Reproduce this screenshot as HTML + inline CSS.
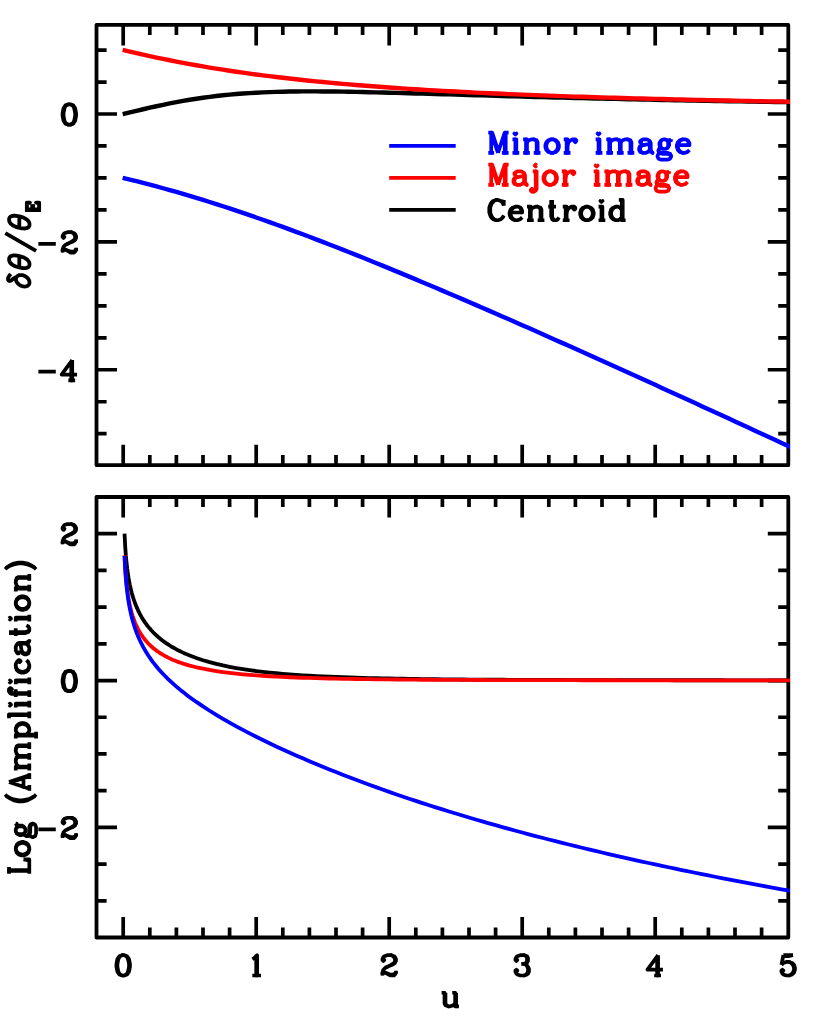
<!DOCTYPE html>
<html><head><meta charset="utf-8"><title>Microlensing image shifts</title>
<style>html,body{margin:0;padding:0;background:#fff;}body{width:830px;height:1032px;overflow:hidden;font-family:"Liberation Sans",sans-serif;}svg{display:block}</style>
</head><body>
<svg width="830" height="1032" viewBox="0 0 830 1032">
<rect width="830" height="1032" fill="#fff"/>
<defs><clipPath id="ct"><rect x="94.6" y="23.0" width="695.40" height="444.10"/></clipPath><clipPath id="cb"><rect x="94.6" y="495.1" width="695.40" height="444.30"/></clipPath></defs>
<g fill="none" stroke="#000" stroke-linejoin="round">
<rect x="96.5" y="24.9" width="691.80" height="440.30" stroke-width="3.8"/>
<rect x="96.5" y="497.0" width="691.80" height="440.50" stroke-width="3.8"/>
<path stroke-width="3.7" d="M123.2 24.9v20.5M123.2 465.2v-20.5M149.8 24.9v10.1M149.8 465.2v-10.1M176.4 24.9v10.1M176.4 465.2v-10.1M203 24.9v10.1M203 465.2v-10.1M229.6 24.9v10.1M229.6 465.2v-10.1M256.2 24.9v20.5M256.2 465.2v-20.5M282.8 24.9v10.1M282.8 465.2v-10.1M309.4 24.9v10.1M309.4 465.2v-10.1M336 24.9v10.1M336 465.2v-10.1M362.6 24.9v10.1M362.6 465.2v-10.1M389.2 24.9v20.5M389.2 465.2v-20.5M415.8 24.9v10.1M415.8 465.2v-10.1M442.4 24.9v10.1M442.4 465.2v-10.1M469 24.9v10.1M469 465.2v-10.1M495.6 24.9v10.1M495.6 465.2v-10.1M522.2 24.9v20.5M522.2 465.2v-20.5M548.8 24.9v10.1M548.8 465.2v-10.1M575.4 24.9v10.1M575.4 465.2v-10.1M602 24.9v10.1M602 465.2v-10.1M628.6 24.9v10.1M628.6 465.2v-10.1M655.2 24.9v20.5M655.2 465.2v-20.5M681.8 24.9v10.1M681.8 465.2v-10.1M708.4 24.9v10.1M708.4 465.2v-10.1M735 24.9v10.1M735 465.2v-10.1M761.6 24.9v10.1M761.6 465.2v-10.1M96.5 433.7h10.1M788.3 433.7h-10.1M96.5 401.73h10.1M788.3 401.73h-10.1M96.5 369.76h20.5M788.3 369.76h-20.5M96.5 337.79h10.1M788.3 337.79h-10.1M96.5 305.82h10.1M788.3 305.82h-10.1M96.5 273.85h10.1M788.3 273.85h-10.1M96.5 241.88h20.5M788.3 241.88h-20.5M96.5 209.91h10.1M788.3 209.91h-10.1M96.5 177.94h10.1M788.3 177.94h-10.1M96.5 145.97h10.1M788.3 145.97h-10.1M96.5 114h20.5M788.3 114h-20.5M96.5 82.03h10.1M788.3 82.03h-10.1M96.5 50.06h10.1M788.3 50.06h-10.1"/>
<path stroke-width="3.7" d="M123.2 497v20.5M123.2 937.5v-20.5M149.8 497v10.1M149.8 937.5v-10.1M176.4 497v10.1M176.4 937.5v-10.1M203 497v10.1M203 937.5v-10.1M229.6 497v10.1M229.6 937.5v-10.1M256.2 497v20.5M256.2 937.5v-20.5M282.8 497v10.1M282.8 937.5v-10.1M309.4 497v10.1M309.4 937.5v-10.1M336 497v10.1M336 937.5v-10.1M362.6 497v10.1M362.6 937.5v-10.1M389.2 497v20.5M389.2 937.5v-20.5M415.8 497v10.1M415.8 937.5v-10.1M442.4 497v10.1M442.4 937.5v-10.1M469 497v10.1M469 937.5v-10.1M495.6 497v10.1M495.6 937.5v-10.1M522.2 497v20.5M522.2 937.5v-20.5M548.8 497v10.1M548.8 937.5v-10.1M575.4 497v10.1M575.4 937.5v-10.1M602 497v10.1M602 937.5v-10.1M628.6 497v10.1M628.6 937.5v-10.1M655.2 497v20.5M655.2 937.5v-20.5M681.8 497v10.1M681.8 937.5v-10.1M708.4 497v10.1M708.4 937.5v-10.1M735 497v10.1M735 937.5v-10.1M761.6 497v10.1M761.6 937.5v-10.1M96.5 900.81h10.1M788.3 900.81h-10.1M96.5 864.1h10.1M788.3 864.1h-10.1M96.5 827.39h20.5M788.3 827.39h-20.5M96.5 790.68h10.1M788.3 790.68h-10.1M96.5 753.97h10.1M788.3 753.97h-10.1M96.5 717.26h10.1M788.3 717.26h-10.1M96.5 680.55h20.5M788.3 680.55h-20.5M96.5 643.84h10.1M788.3 643.84h-10.1M96.5 607.13h10.1M788.3 607.13h-10.1M96.5 570.42h10.1M788.3 570.42h-10.1M96.5 533.71h20.5M788.3 533.71h-20.5"/>
</g>
<g fill="none" stroke-linejoin="round" stroke-linecap="butt">
<g clip-path="url(#ct)" stroke-width="4.4">
<path d="M122.67 114.13L129.85 112.4L136.5 110.82L143.15 109.26L149.8 107.73L156.45 106.25L163.1 104.82L169.75 103.46L176.4 102.16L183.05 100.94L189.7 99.79L196.35 98.73L203 97.74L209.65 96.84L216.3 96.02L222.95 95.29L229.6 94.62L236.25 94.04L242.9 93.52L249.55 93.07L256.2 92.69L262.85 92.36L269.5 92.09L276.15 91.87L282.8 91.7L289.45 91.56L296.1 91.47L302.75 91.42L309.4 91.39L316.05 91.4L322.7 91.43L329.35 91.49L336 91.56L342.65 91.66L349.3 91.77L355.95 91.9L362.6 92.04L369.25 92.19L375.9 92.34L382.55 92.51L389.2 92.69L395.85 92.87L402.5 93.05L409.15 93.24L415.8 93.43L422.45 93.63L429.1 93.83L435.75 94.03L442.4 94.22L449.05 94.42L455.7 94.62L462.35 94.82L469 95.02L475.65 95.22L482.3 95.42L488.95 95.61L495.6 95.81L502.25 96L508.9 96.19L515.55 96.38L522.2 96.56L528.85 96.75L535.5 96.93L542.15 97.11L548.8 97.28L555.45 97.46L562.1 97.63L568.75 97.8L575.4 97.97L582.05 98.13L588.7 98.3L595.35 98.46L602 98.61L608.65 98.77L615.3 98.92L621.95 99.07L628.6 99.22L635.25 99.37L641.9 99.51L648.55 99.65L655.2 99.79L661.85 99.93L668.5 100.06L675.15 100.2L681.8 100.33L688.45 100.46L695.1 100.58L701.75 100.71L708.4 100.83L715.05 100.95L721.7 101.07L728.35 101.19L735 101.3L741.65 101.41L748.3 101.53L754.95 101.64L761.6 101.74L768.25 101.85L774.9 101.95L781.55 102.06L788.2 102.16L794.85 102.26" stroke="#000"/>
<path d="M122.67 177.81L129.85 179.56L136.5 181.22L143.15 182.92L149.8 184.65L156.45 186.43L163.1 188.25L169.75 190.1L176.4 191.99L183.05 193.93L189.7 195.89L196.35 197.9L203 199.94L209.65 202.01L216.3 204.12L222.95 206.27L229.6 208.44L236.25 210.65L242.9 212.89L249.55 215.16L256.2 217.46L262.85 219.78L269.5 222.14L276.15 224.52L282.8 226.93L289.45 229.36L296.1 231.82L302.75 234.3L309.4 236.81L316.05 239.33L322.7 241.88L329.35 244.45L336 247.04L342.65 249.64L349.3 252.27L355.95 254.91L362.6 257.57L369.25 260.24L375.9 262.94L382.55 265.64L389.2 268.36L395.85 271.1L402.5 273.85L409.15 276.61L415.8 279.39L422.45 282.17L429.1 284.97L435.75 287.78L442.4 290.61L449.05 293.44L455.7 296.28L462.35 299.13L469 301.99L475.65 304.86L482.3 307.74L488.95 310.63L495.6 313.52L502.25 316.43L508.9 319.34L515.55 322.25L522.2 325.18L528.85 328.11L535.5 331.05L542.15 333.99L548.8 336.95L555.45 339.9L562.1 342.87L568.75 345.83L575.4 348.81L582.05 351.79L588.7 354.77L595.35 357.76L602 360.75L608.65 363.75L615.3 366.75L621.95 369.76L628.6 372.77L635.25 375.79L641.9 378.8L648.55 381.83L655.2 384.85L661.85 387.88L668.5 390.92L675.15 393.95L681.8 396.99L688.45 400.04L695.1 403.08L701.75 406.13L708.4 409.19L715.05 412.24L721.7 415.3L728.35 418.36L735 421.42L741.65 424.49L748.3 427.56L754.95 430.63L761.6 433.7L768.25 436.78L774.9 439.85L781.55 442.93L788.2 446.01L794.85 449.1" stroke="#0000ff"/>
<path d="M122.67 49.93L129.85 51.64L136.5 53.18L143.15 54.68L149.8 56.14L156.45 57.55L163.1 58.94L169.75 60.28L176.4 61.58L183.05 62.85L189.7 64.08L196.35 65.27L203 66.43L209.65 67.55L216.3 68.64L222.95 69.69L229.6 70.71L236.25 71.7L242.9 72.66L249.55 73.58L256.2 74.48L262.85 75.35L269.5 76.19L276.15 77.01L282.8 77.8L289.45 78.56L296.1 79.3L302.75 80.02L309.4 80.71L316.05 81.38L322.7 82.03L329.35 82.66L336 83.27L342.65 83.86L349.3 84.43L355.95 84.99L362.6 85.52L369.25 86.04L375.9 86.55L382.55 87.04L389.2 87.52L395.85 87.98L402.5 88.42L409.15 88.86L415.8 89.28L422.45 89.69L429.1 90.09L435.75 90.47L442.4 90.85L449.05 91.22L455.7 91.57L462.35 91.92L469 92.25L475.65 92.58L482.3 92.9L488.95 93.21L495.6 93.51L502.25 93.8L508.9 94.09L515.55 94.37L522.2 94.64L528.85 94.91L535.5 95.16L542.15 95.42L548.8 95.66L555.45 95.9L562.1 96.14L568.75 96.37L575.4 96.59L582.05 96.81L588.7 97.02L595.35 97.23L602 97.43L608.65 97.63L615.3 97.82L621.95 98.02L628.6 98.2L635.25 98.38L641.9 98.56L648.55 98.74L655.2 98.91L661.85 99.07L668.5 99.24L675.15 99.4L681.8 99.55L688.45 99.71L695.1 99.86L701.75 100.01L708.4 100.15L715.05 100.29L721.7 100.43L728.35 100.57L735 100.7L741.65 100.83L748.3 100.96L754.95 101.09L761.6 101.21L768.25 101.33L774.9 101.45L781.55 101.57L788.2 101.69L794.85 101.8" stroke="#ff0000"/>
</g>
<path d="M389.2 145.97H455.7" stroke="#0000ff" stroke-width="3.8"/>
<path d="M389.2 177.94H455.7" stroke="#ff0000" stroke-width="3.8"/>
<path d="M389.2 209.91H455.7" stroke="#000" stroke-width="3.8"/>
<g clip-path="url(#cb)" stroke-width="3.8">
<path d="M124.53 533.56L125.2 546.49L125.86 555.66L126.53 562.77L127.19 568.58L127.86 573.49L128.52 577.74L129.19 581.49L129.85 584.85L130.52 587.88L131.18 590.65L131.84 593.19L132.51 595.55L133.18 597.74L133.84 599.79L134.5 601.71L135.17 603.52L135.84 605.24L136.5 606.86L138.16 610.58L139.82 613.91L141.49 616.91L143.15 619.64L144.81 622.15L146.47 624.46L148.14 626.61L149.8 628.61L151.46 630.48L153.12 632.24L154.79 633.9L156.45 635.46L158.11 636.94L159.78 638.35L161.44 639.69L163.1 640.96L164.76 642.18L166.43 643.34L168.09 644.45L169.75 645.51L171.41 646.53L173.07 647.51L174.74 648.45L176.4 649.35L178.06 650.23L179.73 651.06L181.39 651.87L183.05 652.65L184.71 653.4L186.38 654.13L188.04 654.83L189.7 655.51L196.35 658.01L203 660.21L209.65 662.15L216.3 663.88L222.95 665.42L229.6 666.8L236.25 668.03L242.9 669.14L249.55 670.13L256.2 671.03L262.85 671.84L269.5 672.57L276.15 673.23L282.8 673.82L289.45 674.36L296.1 674.85L302.75 675.3L309.4 675.71L316.05 676.07L322.7 676.41L329.35 676.71L336 676.99L342.65 677.25L349.3 677.48L355.95 677.69L362.6 677.89L369.25 678.07L375.9 678.23L382.55 678.38L389.2 678.52L395.85 678.65L402.5 678.77L409.15 678.88L415.8 678.98L422.45 679.07L429.1 679.15L435.75 679.23L442.4 679.3L449.05 679.37L455.7 679.43L462.35 679.49L469 679.55L475.65 679.6L482.3 679.64L488.95 679.69L495.6 679.73L502.25 679.77L508.9 679.8L515.55 679.83L522.2 679.86L528.85 679.89L535.5 679.92L542.15 679.94L548.8 679.97L555.45 679.99L562.1 680.01L568.75 680.03L575.4 680.05L582.05 680.07L588.7 680.08L595.35 680.1L602 680.11L608.65 680.13L615.3 680.14L621.95 680.15L628.6 680.16L635.25 680.17L641.9 680.18L648.55 680.19L655.2 680.2L661.85 680.21L668.5 680.22L675.15 680.23L681.8 680.23L688.45 680.24L695.1 680.25L701.75 680.25L708.4 680.26L715.05 680.27L721.7 680.27L728.35 680.28L735 680.28L741.65 680.29L748.3 680.29L754.95 680.29L761.6 680.3L768.25 680.3L774.9 680.31L781.55 680.31L788.2 680.31L794.85 680.32" stroke="#000"/>
<path d="M124.53 555.34L125.2 568.11L125.86 577.13L126.53 584.08L127.19 589.74L127.86 594.5L128.52 598.6L129.19 602.19L129.85 605.4L130.52 608.28L131.18 610.89L131.84 613.29L132.51 615.5L133.18 617.54L133.84 619.44L134.5 621.22L135.17 622.89L135.84 624.45L136.5 625.93L138.16 629.3L139.82 632.28L141.49 634.93L143.15 637.32L144.81 639.49L146.47 641.47L148.14 643.3L149.8 644.98L151.46 646.53L153.12 647.98L154.79 649.33L156.45 650.59L158.11 651.78L159.78 652.89L161.44 653.94L163.1 654.94L164.76 655.87L166.43 656.76L168.09 657.6L169.75 658.4L171.41 659.17L173.07 659.89L174.74 660.58L176.4 661.24L178.06 661.87L179.73 662.47L181.39 663.05L183.05 663.6L184.71 664.13L186.38 664.63L188.04 665.12L189.7 665.59L196.35 667.28L203 668.73L209.65 669.99L216.3 671.08L222.95 672.04L229.6 672.88L236.25 673.62L242.9 674.27L249.55 674.86L256.2 675.37L262.85 675.83L269.5 676.24L276.15 676.61L282.8 676.94L289.45 677.24L296.1 677.51L302.75 677.75L309.4 677.97L316.05 678.16L322.7 678.34L329.35 678.5L336 678.65L342.65 678.79L349.3 678.91L355.95 679.02L362.6 679.12L369.25 679.21L375.9 679.3L382.55 679.38L389.2 679.45L395.85 679.51L402.5 679.57L409.15 679.63L415.8 679.68L422.45 679.73L429.1 679.77L435.75 679.81L442.4 679.85L449.05 679.88L455.7 679.91L462.35 679.94L469 679.97L475.65 680L482.3 680.02L488.95 680.04L495.6 680.06L502.25 680.08L508.9 680.1L515.55 680.12L522.2 680.13L528.85 680.15L535.5 680.16L542.15 680.17L548.8 680.18L555.45 680.19L562.1 680.21L568.75 680.21L575.4 680.22L582.05 680.23L588.7 680.24L595.35 680.25L602 680.26L608.65 680.26L615.3 680.27L621.95 680.28L628.6 680.28L635.25 680.29L641.9 680.29L648.55 680.3L655.2 680.3L661.85 680.31L668.5 680.31L675.15 680.31L681.8 680.32L688.45 680.32L695.1 680.32L701.75 680.33L708.4 680.33L715.05 680.33L721.7 680.34L728.35 680.34L735 680.34L741.65 680.34L748.3 680.34L754.95 680.35L761.6 680.35L768.25 680.35L774.9 680.35L781.55 680.35L788.2 680.36L794.85 680.36" stroke="#ff0000"/>
<path d="M124.53 555.98L125.2 569.07L125.86 578.4L126.53 585.68L127.19 591.65L127.86 596.73L128.52 601.15L129.19 605.06L129.85 608.58L130.52 611.78L131.18 614.72L131.84 617.43L132.51 619.96L133.18 622.32L133.84 624.54L134.5 626.64L135.17 628.62L135.84 630.51L136.5 632.31L138.16 636.47L139.82 640.24L141.49 643.69L143.15 646.88L144.81 649.84L146.47 652.62L148.14 655.23L149.8 657.71L151.46 660.06L153.12 662.3L154.79 664.44L156.45 666.5L158.11 668.47L159.78 670.38L161.44 672.22L163.1 674L164.76 675.72L166.43 677.4L168.09 679.03L169.75 680.61L171.41 682.16L173.07 683.67L174.74 685.14L176.4 686.58L178.06 687.99L179.73 689.37L181.39 690.73L183.05 692.06L184.71 693.36L186.38 694.65L188.04 695.91L189.7 697.15L196.35 701.92L203 706.44L209.65 710.74L216.3 714.86L222.95 718.81L229.6 722.63L236.25 726.31L242.9 729.89L249.55 733.36L256.2 736.75L262.85 740.04L269.5 743.26L276.15 746.41L282.8 749.49L289.45 752.51L296.1 755.46L302.75 758.36L309.4 761.21L316.05 764L322.7 766.75L329.35 769.45L336 772.1L342.65 774.71L349.3 777.27L355.95 779.8L362.6 782.29L369.25 784.73L375.9 787.15L382.55 789.52L389.2 791.86L395.85 794.17L402.5 796.44L409.15 798.68L415.8 800.89L422.45 803.07L429.1 805.22L435.75 807.34L442.4 809.43L449.05 811.49L455.7 813.53L462.35 815.54L469 817.52L475.65 819.48L482.3 821.41L488.95 823.32L495.6 825.2L502.25 827.07L508.9 828.9L515.55 830.72L522.2 832.52L528.85 834.29L535.5 836.04L542.15 837.77L548.8 839.48L555.45 841.18L562.1 842.85L568.75 844.5L575.4 846.14L582.05 847.75L588.7 849.35L595.35 850.93L602 852.5L608.65 854.04L615.3 855.57L621.95 857.09L628.6 858.59L635.25 860.07L641.9 861.54L648.55 862.99L655.2 864.43L661.85 865.85L668.5 867.26L675.15 868.65L681.8 870.04L688.45 871.4L695.1 872.76L701.75 874.1L708.4 875.43L715.05 876.74L721.7 878.05L728.35 879.34L735 880.62L741.65 881.89L748.3 883.14L754.95 884.39L761.6 885.62L768.25 886.85L774.9 888.06L781.55 889.26L788.2 890.45L794.85 891.63" stroke="#0000ff"/>
</g></g>
<g transform="translate(486.37 152.87)" fill="none" stroke="#0000ff" stroke-width="3.7" stroke-linejoin="round"><path d="M22.24 0L15.47 0M1.93 0L7.74 0M11.6 -2.9L5.8 -20.31L1.93 -20.31M22.24 -20.31L18.37 -20.31M11.6 0L4.83 -20.31M11.6 0L18.37 -20.31M4.83 -20.31L4.83 0M18.37 0L18.37 -20.31M19.34 0L19.34 -20.31M26.11 -13.54L29.98 -13.54L29.98 0M26.11 0L32.88 0M29.01 -13.54L29.01 0M29.01 -20.31L28.04 -19.34L29.01 -18.37L29.98 -19.34L29.01 -20.31M54.15 0L47.38 0M36.75 0L43.52 0M36.75 -13.54L40.61 -13.54L40.61 0M50.28 0L50.28 -10.64L49.32 -12.57L47.38 -13.54L45.45 -13.54L42.55 -12.57L40.61 -10.64M39.65 -13.54L39.65 0M51.25 0L51.25 -10.64L50.28 -12.57L47.38 -13.54M64.79 0L61.89 -0.97L59.95 -2.9L58.99 -5.8L58.99 -7.74L59.95 -10.64L61.89 -12.57L64.79 -13.54L66.72 -13.54L69.62 -12.57L71.56 -10.64L72.53 -7.74L72.53 -5.8L71.56 -2.9L69.62 -0.97L66.72 0L64.79 0L62.85 -0.97L60.92 -2.9L59.95 -5.8L59.95 -7.74L60.92 -10.64L62.85 -12.57L64.79 -13.54M66.72 -13.54L68.66 -12.57L70.59 -10.64L71.56 -7.74L71.56 -5.8L70.59 -2.9L68.66 -0.97L66.72 0M77.36 -13.54L81.23 -13.54L81.23 0M88.96 -12.57L88 -11.6L88.96 -10.64L89.93 -11.6L89.93 -12.57L88.96 -13.54L86.06 -13.54L84.13 -12.57L82.2 -10.64L81.23 -7.74M77.36 0L84.13 0M80.26 -13.54L80.26 0M109.27 -13.54L113.14 -13.54L113.14 0M109.27 0L116.04 0M112.17 -13.54L112.17 0M112.17 -20.31L111.2 -19.34L112.17 -18.37L113.14 -19.34L112.17 -20.31M141.18 0L147.95 0M137.31 0L130.55 0M119.91 0L126.68 0M119.91 -13.54L123.78 -13.54L123.78 0M133.45 0L133.45 -10.64L132.48 -12.57L130.55 -13.54L128.61 -13.54L125.71 -12.57L123.78 -10.64M134.41 -10.64L133.45 -12.57L130.55 -13.54M134.41 -10.64L134.41 0M134.41 -10.64L136.35 -12.57L139.25 -13.54L141.18 -13.54L144.08 -12.57L145.05 -10.64L145.05 0M122.81 -13.54L122.81 0M144.08 0L144.08 -10.64L143.12 -12.57L141.18 -13.54M167.29 0L166.32 0L164.39 -0.97L163.42 -2.9L163.42 -11.6L162.46 -12.57L160.52 -13.54L156.65 -13.54L154.72 -12.57L153.75 -11.6L153.75 -10.64L154.72 -10.64L154.72 -11.6M163.42 -2.9L161.49 -0.97L159.55 0L156.65 0L153.75 -0.97L152.79 -2.9L152.79 -4.83L153.75 -6.77L156.65 -7.74L162.46 -8.7L163.42 -9.67M166.32 0L165.36 -0.97L164.39 -2.9L164.39 -9.67L163.42 -11.6M156.65 -7.74L154.72 -6.77L153.75 -4.83L153.75 -2.9L154.72 -0.97L156.65 0M175.03 0L172.13 0.97L171.16 2.9L171.16 3.87L172.13 5.8L175.03 6.77L180.83 6.77L183.73 5.8L184.7 3.87L184.7 2.9L183.73 0.97L180.83 0L175.99 0L173.09 -0.97L172.13 -1.93L172.13 -2.9L173.09 -4.83L174.06 -5.8M184.7 -13.54L182.76 -12.57L181.8 -11.6M184.7 -13.54L184.7 -12.57L182.76 -12.57M184.7 2.9L183.73 1.93L180.83 0.97L175.99 0.97L173.09 0L172.13 -1.93M174.06 -5.8L173.09 -7.74L173.09 -9.67L174.06 -11.6L175.03 -12.57L176.96 -13.54L178.89 -13.54L180.83 -12.57L181.8 -11.6L182.76 -9.67L182.76 -7.74L181.8 -5.8L180.83 -4.83L178.89 -3.87L176.96 -3.87L175.03 -4.83L174.06 -5.8M175.03 -4.83L174.06 -6.77L174.06 -10.64L175.03 -12.57M180.83 -4.83L181.8 -6.77L181.8 -10.64L180.83 -12.57M203.07 -2.9L201.14 -0.97L198.23 0L196.3 0L193.4 -0.97L191.47 -2.9L190.5 -5.8L190.5 -7.74L191.47 -10.64L193.4 -12.57L196.3 -13.54L199.2 -13.54L201.14 -12.57L202.1 -11.6L203.07 -9.67L203.07 -7.74L191.47 -7.74M196.3 0L194.37 -0.97L192.43 -2.9L191.47 -5.8L191.47 -7.74L192.43 -10.64L194.37 -12.57L196.3 -13.54M202.1 -7.74L202.1 -10.64L201.14 -12.57"/><path stroke-linecap="round" d="M18.37 -20.31h0M4.83 -20.31h0M4.83 0h0M18.37 0h0M19.34 0h0M19.34 -20.31h0M29.98 0h0M29.01 -13.54h0M29.01 0h0M40.61 0h0M50.28 0h0M40.61 -10.64h0M39.65 -13.54h0M39.65 0h0M51.25 0h0M47.38 -13.54h0M64.79 0h0M64.79 -13.54h0M66.72 -13.54h0M66.72 0h0M81.23 0h0M81.23 -7.74h0M80.26 -13.54h0M80.26 0h0M113.14 0h0M112.17 -13.54h0M112.17 0h0M123.78 0h0M133.45 0h0M123.78 -10.64h0M134.41 -10.64h0M130.55 -13.54h0M134.41 0h0M145.05 0h0M122.81 -13.54h0M122.81 0h0M144.08 0h0M141.18 -13.54h0M163.42 -2.9h0M163.42 -9.67h0M166.32 0h0M163.42 -11.6h0M156.65 -7.74h0M156.65 0h0M174.06 -5.8h0M181.8 -11.6h0M182.76 -12.57h0M184.7 2.9h0M172.13 -1.93h0M175.03 -4.83h0M175.03 -12.57h0M180.83 -4.83h0M180.83 -12.57h0M191.47 -7.74h0M196.3 0h0M196.3 -13.54h0M202.1 -7.74h0M201.14 -12.57h0"/></g>
<g transform="translate(486.37 184.87)" fill="none" stroke="#ff0000" stroke-width="3.7" stroke-linejoin="round"><path d="M22.24 0L15.47 0M1.93 0L7.74 0M11.6 -2.9L5.8 -20.31L1.93 -20.31M22.24 -20.31L18.37 -20.31M11.6 0L4.83 -20.31M11.6 0L18.37 -20.31M4.83 -20.31L4.83 0M18.37 0L18.37 -20.31M19.34 0L19.34 -20.31M41.58 0L40.61 0L38.68 -0.97L37.71 -2.9L37.71 -11.6L36.75 -12.57L34.81 -13.54L30.94 -13.54L29.01 -12.57L28.04 -11.6L28.04 -10.64L29.01 -10.64L29.01 -11.6M37.71 -2.9L35.78 -0.97L33.84 0L30.94 0L28.04 -0.97L27.08 -2.9L27.08 -4.83L28.04 -6.77L30.94 -7.74L36.75 -8.7L37.71 -9.67M40.61 0L39.65 -0.97L38.68 -2.9L38.68 -9.67L37.71 -11.6M30.94 -7.74L29.01 -6.77L28.04 -4.83L28.04 -2.9L29.01 -0.97L30.94 0M46.42 -13.54L50.28 -13.54L50.28 3.87L49.32 5.8L47.38 6.77L45.45 6.77L44.48 5.8L44.48 4.83L45.45 3.87L46.42 4.83L45.45 5.8M49.32 -13.54L49.32 3.87L48.35 5.8L47.38 6.77M50.28 -19.34L49.32 -18.37L48.35 -19.34L49.32 -20.31L50.28 -19.34M62.86 0L59.95 -0.97L58.02 -2.9L57.05 -5.8L57.05 -7.74L58.02 -10.64L59.95 -12.57L62.86 -13.54L64.79 -13.54L67.69 -12.57L69.62 -10.64L70.59 -7.74L70.59 -5.8L69.62 -2.9L67.69 -0.97L64.79 0L62.86 0L60.92 -0.97L58.99 -2.9L58.02 -5.8L58.02 -7.74L58.99 -10.64L60.92 -12.57L62.86 -13.54M64.79 -13.54L66.72 -12.57L68.66 -10.64L69.62 -7.74L69.62 -5.8L68.66 -2.9L66.72 -0.97L64.79 0M75.43 -13.54L79.29 -13.54L79.29 0M87.03 -12.57L86.06 -11.6L87.03 -10.64L88 -11.6L88 -12.57L87.03 -13.54L84.13 -13.54L82.2 -12.57L80.26 -10.64L79.29 -7.74M75.43 0L82.2 0M78.33 -13.54L78.33 0M107.34 -13.54L111.21 -13.54L111.21 0M107.34 0L114.11 0M110.24 -13.54L110.24 0M110.24 -20.31L109.27 -19.34L110.24 -18.37L111.21 -19.34L110.24 -20.31M139.25 0L146.02 0M135.38 0L128.61 0M117.97 0L124.74 0M117.97 -13.54L121.84 -13.54L121.84 0M131.51 0L131.51 -10.64L130.55 -12.57L128.61 -13.54L126.68 -13.54L123.78 -12.57L121.84 -10.64M132.48 -10.64L131.51 -12.57L128.61 -13.54M132.48 -10.64L132.48 0M132.48 -10.64L134.41 -12.57L137.31 -13.54L139.25 -13.54L142.15 -12.57L143.12 -10.64L143.12 0M120.88 -13.54L120.88 0M142.15 0L142.15 -10.64L141.18 -12.57L139.25 -13.54M165.36 0L164.39 0L162.46 -0.97L161.49 -2.9L161.49 -11.6L160.52 -12.57L158.59 -13.54L154.72 -13.54L152.79 -12.57L151.82 -11.6L151.82 -10.64L152.79 -10.64L152.79 -11.6M161.49 -2.9L159.56 -0.97L157.62 0L154.72 0L151.82 -0.97L150.85 -2.9L150.85 -4.83L151.82 -6.77L154.72 -7.74L160.52 -8.7L161.49 -9.67M164.39 0L163.42 -0.97L162.46 -2.9L162.46 -9.67L161.49 -11.6M154.72 -7.74L152.79 -6.77L151.82 -4.83L151.82 -2.9L152.79 -0.97L154.72 0M173.09 0L170.19 0.97L169.22 2.9L169.22 3.87L170.19 5.8L173.09 6.77L178.89 6.77L181.8 5.8L182.76 3.87L182.76 2.9L181.8 0.97L178.89 0L174.06 0L171.16 -0.97L170.19 -1.93L170.19 -2.9L171.16 -4.83L172.13 -5.8M182.76 -13.54L180.83 -12.57L179.86 -11.6M182.76 -13.54L182.76 -12.57L180.83 -12.57M182.76 2.9L181.8 1.93L178.89 0.97L174.06 0.97L171.16 0L170.19 -1.93M172.13 -5.8L171.16 -7.74L171.16 -9.67L172.13 -11.6L173.09 -12.57L175.03 -13.54L176.96 -13.54L178.89 -12.57L179.86 -11.6L180.83 -9.67L180.83 -7.74L179.86 -5.8L178.89 -4.83L176.96 -3.87L175.03 -3.87L173.09 -4.83L172.13 -5.8M173.09 -4.83L172.13 -6.77L172.13 -10.64L173.09 -12.57M178.89 -4.83L179.86 -6.77L179.86 -10.64L178.89 -12.57M201.14 -2.9L199.2 -0.97L196.3 0L194.37 0L191.47 -0.97L189.53 -2.9L188.56 -5.8L188.56 -7.74L189.53 -10.64L191.47 -12.57L194.37 -13.54L197.27 -13.54L199.2 -12.57L200.17 -11.6L201.14 -9.67L201.14 -7.74L189.53 -7.74M194.37 0L192.43 -0.97L190.5 -2.9L189.53 -5.8L189.53 -7.74L190.5 -10.64L192.43 -12.57L194.37 -13.54M200.17 -7.74L200.17 -10.64L199.2 -12.57"/><path stroke-linecap="round" d="M18.37 -20.31h0M4.83 -20.31h0M4.83 0h0M18.37 0h0M19.34 0h0M19.34 -20.31h0M37.71 -2.9h0M37.71 -9.67h0M40.61 0h0M37.71 -11.6h0M30.94 -7.74h0M30.94 0h0M49.32 -13.54h0M47.38 6.77h0M62.86 0h0M62.86 -13.54h0M64.79 -13.54h0M64.79 0h0M79.29 0h0M79.29 -7.74h0M78.33 -13.54h0M78.33 0h0M111.21 0h0M110.24 -13.54h0M110.24 0h0M121.84 0h0M131.51 0h0M121.84 -10.64h0M132.48 -10.64h0M128.61 -13.54h0M132.48 0h0M143.12 0h0M120.88 -13.54h0M120.88 0h0M142.15 0h0M139.25 -13.54h0M161.49 -2.9h0M161.49 -9.67h0M164.39 0h0M161.49 -11.6h0M154.72 -7.74h0M154.72 0h0M172.13 -5.8h0M179.86 -11.6h0M180.83 -12.57h0M182.76 2.9h0M170.19 -1.93h0M173.09 -4.83h0M173.09 -12.57h0M178.89 -4.83h0M178.89 -12.57h0M189.53 -7.74h0M194.37 0h0M194.37 -13.54h0M200.17 -7.74h0M199.2 -12.57h0"/></g>
<g transform="translate(486.37 220.25)" fill="none" stroke="#000" stroke-width="3.7" stroke-linejoin="round"><path d="M17.41 -4.83L16.44 -2.9L14.5 -0.97L11.6 0L9.67 0L6.77 -0.97L4.83 -2.9L3.87 -4.83L2.9 -7.74L2.9 -12.57L3.87 -15.47L4.83 -17.41L6.77 -19.34L9.67 -20.31L11.6 -20.31L14.5 -19.34L16.44 -17.41L17.41 -14.5M17.41 -20.31L16.44 -17.41M17.41 -20.31L17.41 -14.5M9.67 -20.31L7.74 -19.34L5.8 -17.41L4.83 -15.47L3.87 -12.57L3.87 -7.74L4.83 -4.83L5.8 -2.9L7.74 -0.97L9.67 0M35.78 -2.9L33.84 -0.97L30.94 0L29.01 0L26.11 -0.97L24.17 -2.9L23.21 -5.8L23.21 -7.74L24.17 -10.64L26.11 -12.57L29.01 -13.54L31.91 -13.54L33.84 -12.57L34.81 -11.6L35.78 -9.67L35.78 -7.74L24.17 -7.74M29.01 0L27.08 -0.97L25.14 -2.9L24.17 -5.8L24.17 -7.74L25.14 -10.64L27.08 -12.57L29.01 -13.54M34.81 -7.74L34.81 -10.64L33.84 -12.57M58.02 0L51.25 0M40.61 0L47.38 0M40.61 -13.54L44.48 -13.54L44.48 0M54.15 0L54.15 -10.64L53.19 -12.57L51.25 -13.54L49.32 -13.54L46.42 -12.57L44.48 -10.64M43.52 -13.54L43.52 0M55.12 0L55.12 -10.64L54.15 -12.57L51.25 -13.54M61.89 -13.54L69.62 -13.54M65.76 -20.31L65.76 -3.87L66.72 -0.97L67.69 0L69.62 0L71.56 -0.97L72.53 -2.9M64.79 -20.31L64.79 -3.87L65.76 -0.97L67.69 0M76.39 -13.54L80.26 -13.54L80.26 0M88 -12.57L87.03 -11.6L88 -10.64L88.96 -11.6L88.96 -12.57L88 -13.54L85.1 -13.54L83.16 -12.57L81.23 -10.64L80.26 -7.74M76.39 0L83.16 0M79.29 -13.54L79.29 0M99.6 0L96.7 -0.97L94.77 -2.9L93.8 -5.8L93.8 -7.74L94.77 -10.64L96.7 -12.57L99.6 -13.54L101.53 -13.54L104.44 -12.57L106.37 -10.64L107.34 -7.74L107.34 -5.8L106.37 -2.9L104.44 -0.97L101.53 0L99.6 0L97.67 -0.97L95.73 -2.9L94.77 -5.8L94.77 -7.74L95.73 -10.64L97.67 -12.57L99.6 -13.54M101.53 -13.54L103.47 -12.57L105.4 -10.64L106.37 -7.74L106.37 -5.8L105.4 -2.9L103.47 -0.97L101.53 0M112.17 -13.54L116.04 -13.54L116.04 0M112.17 0L118.94 0M115.07 -13.54L115.07 0M115.07 -20.31L114.11 -19.34L115.07 -18.37L116.04 -19.34L115.07 -20.31M139.25 0L135.38 0L135.38 -20.31M132.48 -20.31L136.35 -20.31L136.35 0M135.38 -10.64L133.45 -12.57L131.51 -13.54L129.58 -13.54L126.68 -12.57L124.74 -10.64L123.78 -7.74L123.78 -5.8L124.74 -2.9L126.68 -0.97L129.58 0L131.51 0L133.45 -0.97L135.38 -2.9M129.58 0L127.64 -0.97L125.71 -2.9L124.74 -5.8L124.74 -7.74L125.71 -10.64L127.64 -12.57L129.58 -13.54"/><path stroke-linecap="round" d="M16.44 -17.41h0M9.67 -20.31h0M9.67 0h0M24.17 -7.74h0M29.01 0h0M29.01 -13.54h0M34.81 -7.74h0M33.84 -12.57h0M44.48 0h0M54.15 0h0M44.48 -10.64h0M43.52 -13.54h0M43.52 0h0M55.12 0h0M51.25 -13.54h0M67.69 0h0M80.26 0h0M80.26 -7.74h0M79.29 -13.54h0M79.29 0h0M99.6 0h0M99.6 -13.54h0M101.53 -13.54h0M101.53 0h0M116.04 0h0M115.07 -13.54h0M115.07 0h0M135.38 -20.31h0M136.35 0h0M135.38 -10.64h0M135.38 -2.9h0M129.58 0h0M129.58 -13.54h0"/></g>
<g transform="translate(59.66 124.65)" fill="none" stroke="#000" stroke-width="3.7" stroke-linejoin="round"><path d="M10.64 -20.31L8.7 -20.31L5.8 -19.34L3.87 -16.44L2.9 -11.6L2.9 -8.7L3.87 -3.87L5.8 -0.97L8.7 0L10.64 0L13.54 -0.97L15.47 -3.87L16.44 -8.7L16.44 -11.6L15.47 -16.44L13.54 -19.34L10.64 -20.31M10.64 -20.31L12.57 -19.34L13.54 -18.37L14.5 -16.44L15.47 -11.6L15.47 -8.7L14.5 -3.87L13.54 -1.93L12.57 -0.97L10.64 0M8.7 -20.31L6.77 -19.34L5.8 -18.37L4.83 -16.44L3.87 -11.6L3.87 -8.7L4.83 -3.87L5.8 -1.93L6.77 -0.97L8.7 0"/><path stroke-linecap="round" d="M10.64 -20.31h0M10.64 0h0M8.7 -20.31h0M8.7 0h0"/></g>
<g transform="translate(34.52 252.53)" fill="none" stroke="#000" stroke-width="3.7" stroke-linejoin="round"><path d="M21.27 -8.7L3.87 -8.7M41.58 -4.83L41.58 -2.9L40.61 -0.97L39.65 0L35.78 0L30.94 -2.9L29.01 -2.9L28.04 -1.93L28.04 0M29.01 -16.44L29.98 -15.47L29.01 -14.5L28.04 -15.47L28.04 -16.44L29.01 -18.37L29.98 -19.34L32.88 -20.31L36.75 -20.31L39.65 -19.34L40.61 -18.37L41.58 -16.44L41.58 -14.5L40.61 -12.57L37.71 -10.64L32.88 -8.7L30.94 -7.74L29.01 -5.8L28.04 -2.9L28.04 -1.93M30.94 -2.9L35.78 -0.97L38.68 -0.97L40.61 -1.93L41.58 -2.9M32.88 -8.7L36.75 -10.64L39.65 -12.57L40.61 -14.5L40.61 -16.44L39.65 -18.37L38.68 -19.34L36.75 -20.31"/><path stroke-linecap="round" d="M28.04 -1.93h0M30.94 -2.9h0M41.58 -2.9h0M32.88 -8.7h0M36.75 -20.31h0"/></g>
<g transform="translate(34.52 380.41)" fill="none" stroke="#000" stroke-width="3.7" stroke-linejoin="round"><path d="M21.27 -8.7L3.87 -8.7M42.55 -5.8L27.08 -5.8L37.71 -20.31M40.61 0L33.84 0M36.75 -18.37L36.75 0M37.71 -20.31L37.71 0"/><path stroke-linecap="round" d="M36.75 0h0M37.71 0h0"/></g>
<g transform="translate(59.66 544.36)" fill="none" stroke="#000" stroke-width="3.7" stroke-linejoin="round"><path d="M16.44 -4.83L16.44 -2.9L15.47 -0.97L14.5 0L10.64 0L5.8 -2.9L3.87 -2.9L2.9 -1.93L2.9 0M3.87 -16.44L4.83 -15.47L3.87 -14.5L2.9 -15.47L2.9 -16.44L3.87 -18.37L4.83 -19.34L7.74 -20.31L11.6 -20.31L14.5 -19.34L15.47 -18.37L16.44 -16.44L16.44 -14.5L15.47 -12.57L12.57 -10.64L7.74 -8.7L5.8 -7.74L3.87 -5.8L2.9 -2.9L2.9 -1.93M5.8 -2.9L10.64 -0.97L13.54 -0.97L15.47 -1.93L16.44 -2.9M7.74 -8.7L11.6 -10.64L14.5 -12.57L15.47 -14.5L15.47 -16.44L14.5 -18.37L13.54 -19.34L11.6 -20.31"/><path stroke-linecap="round" d="M2.9 -1.93h0M5.8 -2.9h0M16.44 -2.9h0M7.74 -8.7h0M11.6 -20.31h0"/></g>
<g transform="translate(59.66 691.2)" fill="none" stroke="#000" stroke-width="3.7" stroke-linejoin="round"><path d="M10.64 -20.31L8.7 -20.31L5.8 -19.34L3.87 -16.44L2.9 -11.6L2.9 -8.7L3.87 -3.87L5.8 -0.97L8.7 0L10.64 0L13.54 -0.97L15.47 -3.87L16.44 -8.7L16.44 -11.6L15.47 -16.44L13.54 -19.34L10.64 -20.31M10.64 -20.31L12.57 -19.34L13.54 -18.37L14.5 -16.44L15.47 -11.6L15.47 -8.7L14.5 -3.87L13.54 -1.93L12.57 -0.97L10.64 0M8.7 -20.31L6.77 -19.34L5.8 -18.37L4.83 -16.44L3.87 -11.6L3.87 -8.7L4.83 -3.87L5.8 -1.93L6.77 -0.97L8.7 0"/><path stroke-linecap="round" d="M10.64 -20.31h0M10.64 0h0M8.7 -20.31h0M8.7 0h0"/></g>
<g transform="translate(34.52 838.04)" fill="none" stroke="#000" stroke-width="3.7" stroke-linejoin="round"><path d="M21.27 -8.7L3.87 -8.7M41.58 -4.83L41.58 -2.9L40.61 -0.97L39.65 0L35.78 0L30.94 -2.9L29.01 -2.9L28.04 -1.93L28.04 0M29.01 -16.44L29.98 -15.47L29.01 -14.5L28.04 -15.47L28.04 -16.44L29.01 -18.37L29.98 -19.34L32.88 -20.31L36.75 -20.31L39.65 -19.34L40.61 -18.37L41.58 -16.44L41.58 -14.5L40.61 -12.57L37.71 -10.64L32.88 -8.7L30.94 -7.74L29.01 -5.8L28.04 -2.9L28.04 -1.93M30.94 -2.9L35.78 -0.97L38.68 -0.97L40.61 -1.93L41.58 -2.9M32.88 -8.7L36.75 -10.64L39.65 -12.57L40.61 -14.5L40.61 -16.44L39.65 -18.37L38.68 -19.34L36.75 -20.31"/><path stroke-linecap="round" d="M28.04 -1.93h0M30.94 -2.9h0M41.58 -2.9h0M32.88 -8.7h0M36.75 -20.31h0"/></g>
<g transform="translate(113.53 975.5)" fill="none" stroke="#000" stroke-width="3.7" stroke-linejoin="round"><path d="M10.64 -20.31L8.7 -20.31L5.8 -19.34L3.87 -16.44L2.9 -11.6L2.9 -8.7L3.87 -3.87L5.8 -0.97L8.7 0L10.64 0L13.54 -0.97L15.47 -3.87L16.44 -8.7L16.44 -11.6L15.47 -16.44L13.54 -19.34L10.64 -20.31M10.64 -20.31L12.57 -19.34L13.54 -18.37L14.5 -16.44L15.47 -11.6L15.47 -8.7L14.5 -3.87L13.54 -1.93L12.57 -0.97L10.64 0M8.7 -20.31L6.77 -19.34L5.8 -18.37L4.83 -16.44L3.87 -11.6L3.87 -8.7L4.83 -3.87L5.8 -1.93L6.77 -0.97L8.7 0"/><path stroke-linecap="round" d="M10.64 -20.31h0M10.64 0h0M8.7 -20.31h0M8.7 0h0"/></g>
<g transform="translate(246.53 975.5)" fill="none" stroke="#000" stroke-width="3.7" stroke-linejoin="round"><path d="M5.8 -16.44L7.74 -17.41L10.64 -20.31L10.64 0M14.5 0L5.8 0M9.67 -19.34L9.67 0"/><path stroke-linecap="round" d="M10.64 0h0M9.67 -19.34h0M9.67 0h0"/></g>
<g transform="translate(379.53 975.5)" fill="none" stroke="#000" stroke-width="3.7" stroke-linejoin="round"><path d="M16.44 -4.83L16.44 -2.9L15.47 -0.97L14.5 0L10.64 0L5.8 -2.9L3.87 -2.9L2.9 -1.93L2.9 0M3.87 -16.44L4.83 -15.47L3.87 -14.5L2.9 -15.47L2.9 -16.44L3.87 -18.37L4.83 -19.34L7.74 -20.31L11.6 -20.31L14.5 -19.34L15.47 -18.37L16.44 -16.44L16.44 -14.5L15.47 -12.57L12.57 -10.64L7.74 -8.7L5.8 -7.74L3.87 -5.8L2.9 -2.9L2.9 -1.93M5.8 -2.9L10.64 -0.97L13.54 -0.97L15.47 -1.93L16.44 -2.9M7.74 -8.7L11.6 -10.64L14.5 -12.57L15.47 -14.5L15.47 -16.44L14.5 -18.37L13.54 -19.34L11.6 -20.31"/><path stroke-linecap="round" d="M2.9 -1.93h0M5.8 -2.9h0M16.44 -2.9h0M7.74 -8.7h0M11.6 -20.31h0"/></g>
<g transform="translate(512.53 975.5)" fill="none" stroke="#000" stroke-width="3.7" stroke-linejoin="round"><path d="M3.87 -3.87L4.83 -4.83L3.87 -5.8L2.9 -4.83L2.9 -3.87L3.87 -1.93L4.83 -0.97L7.74 0L11.6 0L14.5 -0.97L15.47 -1.93L16.44 -3.87L16.44 -6.77L15.47 -8.7L13.54 -10.64L11.6 -11.6L8.7 -11.6M3.87 -16.44L4.83 -15.47L3.87 -14.5L2.9 -15.47L2.9 -16.44L3.87 -18.37L4.83 -19.34L7.74 -20.31L11.6 -20.31L14.5 -19.34L15.47 -17.41L15.47 -14.5L14.5 -12.57L11.6 -11.6M11.6 0L13.54 -0.97L14.5 -1.93L15.47 -3.87L15.47 -6.77L14.5 -9.67M11.6 -20.31L13.54 -19.34L14.5 -17.41L14.5 -14.5L13.54 -12.57L11.6 -11.6"/><path stroke-linecap="round" d="M11.6 -11.6h0M11.6 0h0M14.5 -9.67h0M11.6 -20.31h0"/></g>
<g transform="translate(645.53 975.5)" fill="none" stroke="#000" stroke-width="3.7" stroke-linejoin="round"><path d="M17.41 -5.8L1.93 -5.8L12.57 -20.31M15.47 0L8.7 0M11.6 -18.37L11.6 0M12.57 -20.31L12.57 0"/><path stroke-linecap="round" d="M11.6 0h0M12.57 0h0"/></g>
<g transform="translate(778.53 975.5)" fill="none" stroke="#000" stroke-width="3.7" stroke-linejoin="round"><path d="M3.87 -3.87L4.83 -4.83L3.87 -5.8L2.9 -4.83L2.9 -3.87L3.87 -1.93L4.83 -0.97L7.74 0L10.64 0L13.54 -0.97L15.47 -2.9L16.44 -5.8L16.44 -7.74L15.47 -10.64L13.54 -12.57L10.64 -13.54L7.74 -13.54L4.83 -12.57L2.9 -10.64M4.83 -19.34L9.67 -19.34L14.5 -20.31M2.9 -10.64L4.83 -20.31M4.83 -20.31L14.5 -20.31M10.64 -13.54L12.57 -12.57L14.5 -10.64L15.47 -7.74L15.47 -5.8L14.5 -2.9L12.57 -0.97L10.64 0"/><path stroke-linecap="round" d="M10.64 -13.54h0M10.64 0h0"/></g>
<g transform="translate(439.67 1006.3)" fill="none" stroke="#000" stroke-width="3.7" stroke-linejoin="round"><path d="M19.34 0L15.47 0L15.47 -13.54M1.93 -13.54L5.8 -13.54M12.57 -13.54L16.44 -13.54M5.8 -13.54L5.8 -2.9L6.77 -0.97L8.7 0L10.64 0L13.54 -0.97L15.47 -2.9M16.44 -13.54L16.44 0M8.7 0L5.8 -0.97L4.83 -2.9L4.83 -13.54"/><path stroke-linecap="round" d="M15.47 -13.54h0M15.47 -2.9h0M16.44 0h0M8.7 0h0M4.83 -13.54h0"/></g>
<g transform="translate(29.3 875.79) rotate(-90)" fill="none" stroke="#000" stroke-width="3.7" stroke-linejoin="round"><path d="M8.7 -20.31L1.93 -20.31M1.93 0L16.44 0L16.44 -5.8M16.44 -5.8L15.47 0M4.83 -20.31L4.83 0M5.8 -20.31L5.8 0M26.11 0L23.21 -0.97L21.27 -2.9L20.31 -5.8L20.31 -7.74L21.27 -10.64L23.21 -12.57L26.11 -13.54L28.04 -13.54L30.94 -12.57L32.88 -10.64L33.84 -7.74L33.84 -5.8L32.88 -2.9L30.94 -0.97L28.04 0L26.11 0L24.17 -0.97L22.24 -2.9L21.27 -5.8L21.27 -7.74L22.24 -10.64L24.17 -12.57L26.11 -13.54M28.04 -13.54L29.98 -12.57L31.91 -10.64L32.88 -7.74L32.88 -5.8L31.91 -2.9L29.98 -0.97L28.04 0M42.55 0L39.65 0.97L38.68 2.9L38.68 3.87L39.65 5.8L42.55 6.77L48.35 6.77L51.25 5.8L52.22 3.87L52.22 2.9L51.25 0.97L48.35 0L43.51 0L40.61 -0.97L39.65 -1.93L39.65 -2.9L40.61 -4.83L41.58 -5.8M52.22 -13.54L50.28 -12.57L49.32 -11.6M52.22 -13.54L52.22 -12.57L50.28 -12.57M52.22 2.9L51.25 1.93L48.35 0.97L43.51 0.97L40.61 0L39.65 -1.93M41.58 -5.8L40.61 -7.74L40.61 -9.67L41.58 -11.6L42.55 -12.57L44.48 -13.54L46.42 -13.54L48.35 -12.57L49.32 -11.6L50.28 -9.67L50.28 -7.74L49.32 -5.8L48.35 -4.83L46.42 -3.87L44.48 -3.87L42.55 -4.83L41.58 -5.8M42.55 -4.83L41.58 -6.77L41.58 -10.64L42.55 -12.57M48.35 -4.83L49.32 -6.77L49.32 -10.64L48.35 -12.57M81.23 6.77L79.29 4.83L77.36 1.93L75.43 -1.93L74.46 -6.77L74.46 -10.64L75.43 -15.47L77.36 -19.34L79.29 -22.24L81.23 -24.18M79.29 4.83L77.36 0.97L76.39 -1.93L75.43 -6.77L75.43 -10.64L76.39 -15.47L77.36 -18.37L79.29 -22.24M96.7 0L102.5 0M93.8 -17.41L99.6 0M90.9 0L85.1 0M93.8 -20.31L87.03 0M93.8 -20.31L100.57 0M97.67 -5.8L88.96 -5.8M126.68 0L133.45 0M122.81 0L116.04 0M105.4 0L112.17 0M105.4 -13.54L109.27 -13.54L109.27 0M118.94 0L118.94 -10.64L117.97 -12.57L116.04 -13.54L114.11 -13.54L111.2 -12.57L109.27 -10.64M119.91 -10.64L118.94 -12.57L116.04 -13.54M119.91 -10.64L119.91 0M119.91 -10.64L121.84 -12.57L124.74 -13.54L126.68 -13.54L129.58 -12.57L130.54 -10.64L130.54 0M108.3 -13.54L108.3 0M129.58 0L129.58 -10.64L128.61 -12.57L126.68 -13.54M144.08 6.77L137.31 6.77M137.31 -13.54L141.18 -13.54L141.18 6.77M146.98 0L145.05 0L143.12 -0.97L141.18 -2.9M146.98 0L148.92 -0.97L150.85 -2.9L151.82 -5.8L151.82 -7.74L150.85 -10.64L148.92 -12.57L146.98 -13.54L145.05 -13.54L143.12 -12.57L141.18 -10.64M146.98 0L149.88 -0.97L151.82 -2.9L152.79 -5.8L152.79 -7.74L151.82 -10.64L149.88 -12.57L146.98 -13.54M140.22 -13.54L140.22 6.77M157.62 0L164.39 0M157.62 -20.31L161.49 -20.31L161.49 0M160.52 -20.31L160.52 0M168.26 -13.54L172.13 -13.54L172.13 0M168.26 0L175.03 0M171.16 -13.54L171.16 0M171.16 -20.31L170.19 -19.34L171.16 -18.37L172.13 -19.34L171.16 -20.31M178.89 -13.54L186.63 -13.54M178.89 0L185.66 0M186.63 -19.34L185.66 -18.37L186.63 -17.41L187.6 -18.37L187.6 -19.34L186.63 -20.31L184.7 -20.31L182.76 -19.34L181.8 -17.41L181.8 0M182.76 -13.54L182.76 -17.41L183.73 -19.34L184.7 -20.31M182.76 -13.54L182.76 0M191.47 -13.54L195.33 -13.54L195.33 0M191.47 0L198.23 0M194.37 -13.54L194.37 0M194.37 -20.31L193.4 -19.34L194.37 -18.37L195.33 -19.34L194.37 -20.31M215.64 -2.9L213.71 -0.97L210.81 0L208.87 0L205.97 -0.97L204.04 -2.9L203.07 -5.8L203.07 -7.74L204.04 -10.64L205.97 -12.57L208.87 -13.54L211.77 -13.54L213.71 -12.57L215.64 -10.64L215.64 -9.67L214.67 -8.7L213.71 -9.67L214.67 -10.64M208.87 0L206.94 -0.97L205 -2.9L204.04 -5.8L204.04 -7.74L205 -10.64L206.94 -12.57L208.87 -13.54M235.95 0L234.98 0L233.05 -0.97L232.08 -2.9L232.08 -11.6L231.11 -12.57L229.18 -13.54L225.31 -13.54L223.38 -12.57L222.41 -11.6L222.41 -10.64L223.38 -10.64L223.38 -11.6M232.08 -2.9L230.15 -0.97L228.21 0L225.31 0L222.41 -0.97L221.44 -2.9L221.44 -4.83L222.41 -6.77L225.31 -7.74L231.11 -8.7L232.08 -9.67M234.98 0L234.01 -0.97L233.05 -2.9L233.05 -9.67L232.08 -11.6M225.31 -7.74L223.38 -6.77L222.41 -4.83L222.41 -2.9L223.38 -0.97L225.31 0M239.82 -13.54L247.55 -13.54M243.68 -20.31L243.68 -3.87L244.65 -0.97L245.62 0L247.55 0L249.49 -0.97L250.45 -2.9M242.72 -20.31L242.72 -3.87L243.68 -0.97L245.62 0M254.32 -13.54L258.19 -13.54L258.19 0M254.32 0L261.09 0M257.22 -13.54L257.22 0M257.22 -20.31L256.25 -19.34L257.22 -18.37L258.19 -19.34L257.22 -20.31M271.73 0L268.83 -0.97L266.89 -2.9L265.93 -5.8L265.93 -7.74L266.89 -10.64L268.83 -12.57L271.73 -13.54L273.66 -13.54L276.56 -12.57L278.5 -10.64L279.46 -7.74L279.46 -5.8L278.5 -2.9L276.56 -0.97L273.66 0L271.73 0L269.79 -0.97L267.86 -2.9L266.89 -5.8L266.89 -7.74L267.86 -10.64L269.79 -12.57L271.73 -13.54M273.66 -13.54L275.6 -12.57L277.53 -10.64L278.5 -7.74L278.5 -5.8L277.53 -2.9L275.6 -0.97L273.66 0M301.7 0L294.94 0M284.3 0L291.07 0M284.3 -13.54L288.17 -13.54L288.17 0M297.84 0L297.84 -10.64L296.87 -12.57L294.94 -13.54L293 -13.54L290.1 -12.57L288.17 -10.64M287.2 -13.54L287.2 0M298.8 0L298.8 -10.64L297.84 -12.57L294.94 -13.54M306.54 6.77L308.47 4.83L310.41 1.93L312.34 -1.93L313.31 -6.77L313.31 -10.64L312.34 -15.47L310.41 -19.34L308.47 -22.24L306.54 -24.18M308.47 4.83L310.41 0.97L311.37 -1.93L312.34 -6.77L312.34 -10.64L311.37 -15.47L310.41 -18.37L308.47 -22.24"/><path stroke-linecap="round" d="M15.47 0h0M4.83 -20.31h0M4.83 0h0M5.8 -20.31h0M5.8 0h0M26.11 0h0M26.11 -13.54h0M28.04 -13.54h0M28.04 0h0M41.58 -5.8h0M49.32 -11.6h0M50.28 -12.57h0M52.22 2.9h0M39.65 -1.93h0M42.55 -4.83h0M42.55 -12.57h0M48.35 -4.83h0M48.35 -12.57h0M79.29 4.83h0M79.29 -22.24h0M99.6 0h0M87.03 0h0M100.57 0h0M97.67 -5.8h0M88.96 -5.8h0M109.27 0h0M118.94 0h0M109.27 -10.64h0M119.91 -10.64h0M116.04 -13.54h0M119.91 0h0M130.54 0h0M108.3 -13.54h0M108.3 0h0M129.58 0h0M126.68 -13.54h0M141.18 6.77h0M146.98 0h0M141.18 -2.9h0M141.18 -10.64h0M146.98 -13.54h0M140.22 -13.54h0M140.22 6.77h0M161.49 0h0M160.52 -20.31h0M160.52 0h0M172.13 0h0M171.16 -13.54h0M171.16 0h0M181.8 0h0M182.76 -13.54h0M184.7 -20.31h0M182.76 0h0M195.33 0h0M194.37 -13.54h0M194.37 0h0M208.87 0h0M208.87 -13.54h0M232.08 -2.9h0M232.08 -9.67h0M234.98 0h0M232.08 -11.6h0M225.31 -7.74h0M225.31 0h0M245.62 0h0M258.19 0h0M257.22 -13.54h0M257.22 0h0M271.73 0h0M271.73 -13.54h0M273.66 -13.54h0M273.66 0h0M288.17 0h0M297.84 0h0M288.17 -10.64h0M287.2 -13.54h0M287.2 0h0M298.8 0h0M294.94 -13.54h0M308.47 4.83h0M308.47 -22.24h0"/></g>
<path d="M10.85 273.9L10.55 274.25L10.24 274.6L9.93 274.95L9.63 275.3L9.35 275.65L9.1 276L8.88 276.35L8.67 276.71L8.48 277.06L8.32 277.41L8.19 277.76L8.1 278.1L8.04 278.44L8 278.78L8 279.12L8.03 279.44L8.1 279.74L8.2 280L8.35 280.24L8.56 280.46L8.79 280.66L9.06 280.83L9.33 280.94L9.6 281L9.87 280.99L10.16 280.93L10.46 280.82L10.77 280.67L11.08 280.49L11.4 280.3L11.71 280.08L12 279.81L12.31 279.52L12.63 279.21L12.99 278.9L13.4 278.6L13.87 278.31L14.4 278.01L14.97 277.71L15.55 277.41L16.13 277.11L16.7 276.81L17.22 276.25L17.87 275.79L18.62 275.44L19.45 275.2L20.36 275.09L21.31 275.09L22.3 275.22L23.29 275.46L24.27 275.82L25.22 276.28L26.11 276.84L26.93 277.49L27.66 278.2L28.28 278.97L28.79 279.78L29.17 280.62L29.4 281.45L29.5 282.27L29.45 283.06L29.25 283.8L28.92 284.48L28.45 285.08L27.87 285.59L27.17 286L26.37 286.29L25.5 286.47L24.57 286.53L23.6 286.46L22.61 286.28L21.62 285.98L20.65 285.56L19.73 285.05L18.87 284.44L18.09 283.76L17.41 283.02L16.85 282.22L16.41 281.4L16.1 280.57L15.93 279.74L15.91 278.93L16.03 278.16L16.3 277.45L16.7 276.81M19.3 256.1L17.5 255.72L16.05 255.51L14.76 255.42L13.59 255.45L12.54 255.58L11.62 255.83L10.84 256.17L10.19 256.62L9.69 257.18L9.34 257.84L9.14 258.63L9.1 259.71L9.22 260.65L9.5 261.5L9.92 262.3L10.49 263.08L11.21 263.81L12.06 264.51L13.05 265.16L14.16 265.76L15.39 266.31L16.75 266.8L18.3 267.26L20.3 267.72L21.85 268L23.21 268.15L24.44 268.18L25.55 268.1L26.54 267.91L27.39 267.61L28.11 267.21L28.68 266.71L29.1 266.11L29.38 265.39L29.5 264.5L29.46 263.4L29.26 262.52L28.91 261.69L28.41 260.91L27.76 260.15L26.98 259.44L26.06 258.76L25.01 258.13L23.84 257.56L22.55 257.04L21.1 256.57ZM19.3 267.5L19.3 256.1M19.3 216.4L17.5 216.02L16.05 215.81L14.76 215.72L13.59 215.75L12.54 215.88L11.62 216.13L10.84 216.47L10.19 216.92L9.69 217.48L9.34 218.14L9.14 218.93L9.1 220.01L9.22 220.95L9.5 221.8L9.92 222.6L10.49 223.38L11.21 224.11L12.06 224.81L13.05 225.46L14.16 226.06L15.39 226.61L16.75 227.1L18.3 227.56L20.3 228.02L21.85 228.3L23.21 228.45L24.44 228.48L25.55 228.4L26.54 228.21L27.39 227.91L28.11 227.51L28.68 227.01L29.1 226.41L29.38 225.69L29.5 224.8L29.46 223.7L29.26 222.82L28.91 221.99L28.41 221.21L27.76 220.45L26.98 219.74L26.06 219.06L25.01 218.43L23.84 217.86L22.55 217.34L21.1 216.87ZM19.3 227.8L19.3 216.4M36.1 250.9L5.3 233.1" fill="none" stroke="#000" stroke-width="3.8" stroke-linejoin="round"/><g transform="translate(39.1 213.06) rotate(-90)" fill="none" stroke="#000" stroke-width="3.9" stroke-linejoin="round"><path d="M6.98 -8.73L6.98 -4.07M1.16 0L10.48 0L10.48 -3.49M1.16 -12.22L10.48 -12.22L10.48 -8.73M10.48 -8.73L9.89 -12.22M10.48 -3.49L9.89 0M3.49 -6.4L3.49 -12.22M3.49 -6.4L3.49 0M3.49 -6.4L6.98 -6.4M2.91 -12.22L2.91 0"/><path stroke-linecap="round" d="M9.89 -12.22h0M9.89 0h0M3.49 -6.4h0M3.49 -12.22h0M3.49 0h0M6.98 -6.4h0M2.91 -12.22h0M2.91 0h0"/><path stroke-linecap="round" stroke-width="3.0" d="M10.48 -8.73h0M10.48 -3.49h0"/></g>
</svg>
</body></html>
